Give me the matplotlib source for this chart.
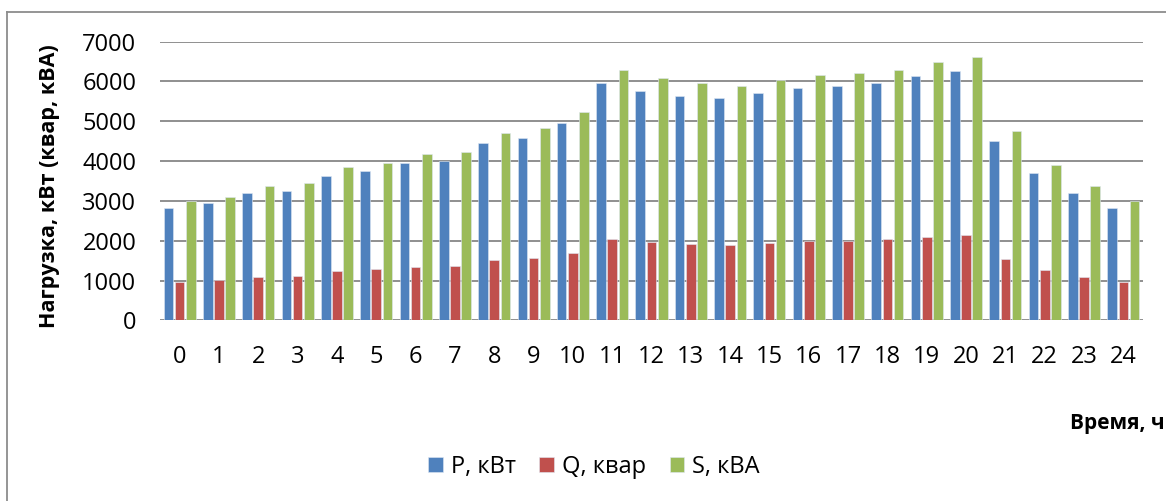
import numpy as np
import matplotlib
matplotlib.use('Agg')
import matplotlib.pyplot as plt
from matplotlib.lines import Line2D

plt.rcParams['font.family'] = ['Open Sans', 'DejaVu Sans']

# données
heures = [str(h) for h in range(25)]
p_kvt = [2814, 2940, 3198, 3249, 3634, 3751, 3944, 4002, 4447, 4573, 4950, 5955, 5761,
         5636, 5578, 5704, 5829, 5887, 5955, 6138, 6264, 4505, 3693, 3198, 2814]
q_kvar = [955, 1013, 1088, 1113, 1247, 1289, 1347, 1372, 1515, 1565, 1691, 2043, 1975,
          1925, 1900, 1950, 2000, 2000, 2043, 2093, 2135, 1540, 1264, 1088, 955]
s_kva = [2997, 3106, 3374, 3442, 3844, 3960, 4171, 4229, 4698, 4832, 5234, 6289, 6088,
         5955, 5887, 6038, 6163, 6222, 6289, 6490, 6624, 4765, 3902, 3374, 2997]
series_labels = ['P, кВт', 'Q, квар', 'S, кВА']
colors = ['#4F81BD', '#C0504D', '#9BBB59']

fig = plt.figure(figsize=(11.66, 5.01), dpi=100)
ax = fig.add_axes([160 / 1166, 1 - 320.3 / 501, (1143 - 160) / 1166, (320.3 - 41.7) / 501])

x = np.arange(len(heures))
w = 0.245
step = 0.285
for i, (vals, lab, c) in enumerate(zip([p_kvt, q_kvar, s_kva], series_labels, colors)):
    ax.bar(x + (i - 1) * step, vals, width=w, color=c, label=lab,
           edgecolor='#dfe8f3', linewidth=0.4, zorder=3)

ax.set_xlim(-0.5, len(heures) - 0.5)
ax.set_ylim(0, 7000)
ax.set_yticks(range(0, 7001, 1000))
ax.set_xticks(x)
ax.set_xticklabels(heures)
ax.grid(axis='y', color='#878787', linewidth=1.3, zorder=0)
for s in ax.spines.values():
    s.set_visible(False)
ax.tick_params(axis='both', length=0, labelsize=17)
ax.tick_params(axis='x', pad=18)
ax.tick_params(axis='y', pad=17)

fig.text(50 / 1166, 1 - 186 / 501, 'Нагрузка, кВт (квар, кВА)', rotation=90,
         ha='center', va='center', fontsize=15.5, fontweight='bold')
fig.text(1165 / 1166, 1 - 423 / 501, 'Время, ч', ha='right', va='center',
         fontsize=15, fontweight='bold')

leg = fig.legend(loc='center', bbox_to_anchor=(594 / 1166, 1 - 467 / 501), ncol=3,
                 frameon=False, fontsize=17, handlelength=0.6, handleheight=0.6,
                 handletextpad=0.35, columnspacing=1.0)

# cadre du graphique (coupé à droite et en bas)
fig.add_artist(Line2D([7 / 1166, 7 / 1166], [0, 1 - 12 / 501], transform=fig.transFigure,
                      color='#8c8c8c', linewidth=1.3))
fig.add_artist(Line2D([7 / 1166, 1], [1 - 12 / 501, 1 - 12 / 501], transform=fig.transFigure,
                      color='#8c8c8c', linewidth=1.3))

fig.savefig('out.png', dpi=100)
